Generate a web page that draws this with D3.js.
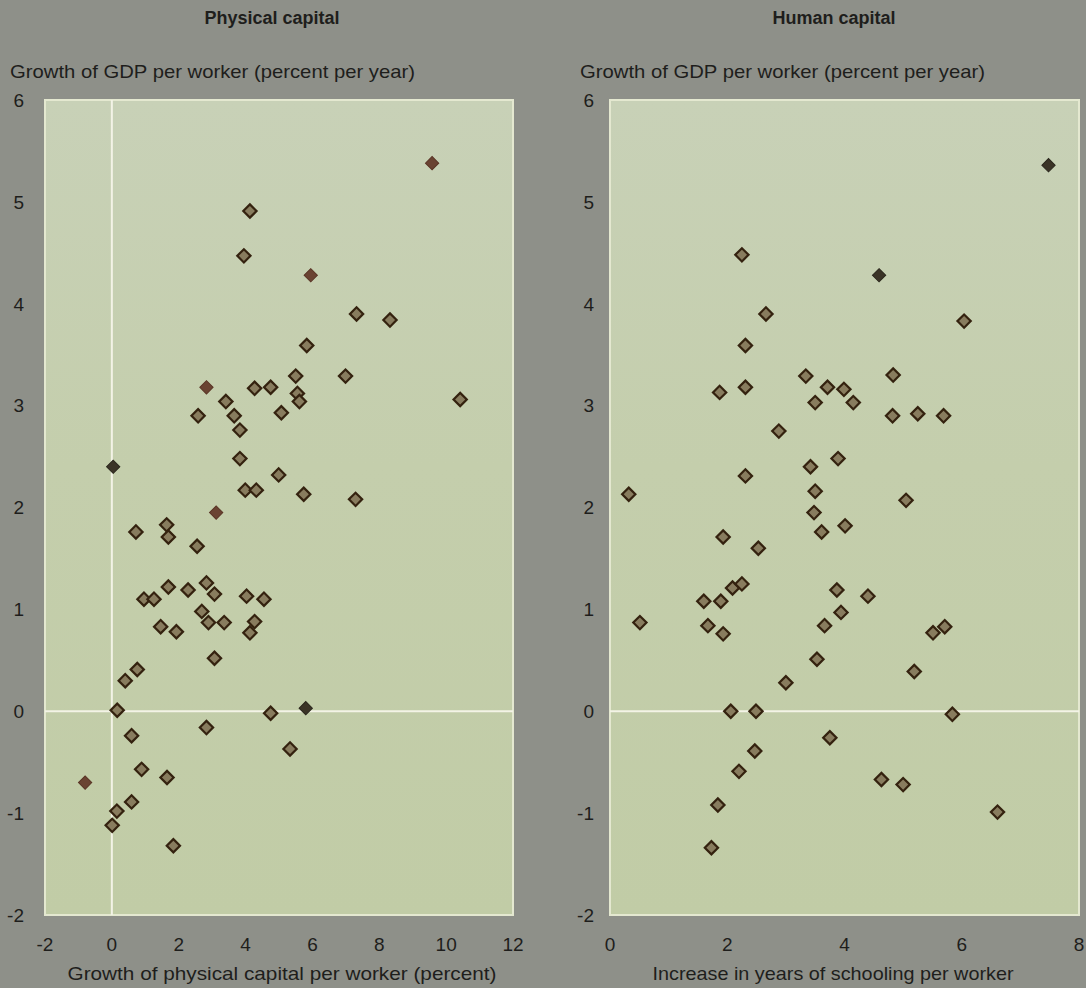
<!DOCTYPE html>
<html><head><meta charset="utf-8">
<script src="https://cdn.jsdelivr.net/npm/d3@7"></script>
<style>
html,body{margin:0;padding:0;background:#8e9089;}
svg{display:block;}
text{font-family:"Liberation Sans","DejaVu Sans",sans-serif;fill:#1e1e1c;}
</style></head>
<body><svg id="c" width="1086" height="988"></svg>
<script>
// ---- data ----
const physX = [9.58,4.13,3.95,5.95,7.32,8.32,5.83,2.83,3.41,2.58,4.27,4.75,5.50,6.99,5.55,5.61,5.07,3.66,3.83,3.83,4.99,3.99,4.32,5.74,7.29,3.12,10.42,2.55,0.04,0.72,1.64,1.69,1.69,2.28,2.83,3.07,0.96,1.26,4.03,4.55,2.69,2.89,3.36,4.27,4.13,1.46,1.93,3.07,0.76,0.40,0.16,4.75,5.80,2.83,0.59,5.33,0.89,1.65,-0.80,0.59,0.15,0.01,1.84];
const physY = [5.38,4.91,4.47,4.28,3.90,3.84,3.59,3.18,3.04,2.90,3.17,3.18,3.29,3.29,3.12,3.04,2.93,2.90,2.76,2.48,2.32,2.17,2.17,2.13,2.08,1.95,3.06,1.62,2.40,1.76,1.83,1.71,1.22,1.19,1.26,1.15,1.10,1.10,1.13,1.10,0.98,0.87,0.87,0.88,0.77,0.83,0.78,0.52,0.41,0.30,0.01,-0.02,0.03,-0.16,-0.24,-0.37,-0.57,-0.65,-0.70,-0.89,-0.98,-1.12,-1.32];
// marker style: 0 = outlined, 1 = solid brown, 2 = solid dark
const physType = [1,0,0,1,0,0,0,1,0,0,0,0,0,0,0,0,0,0,0,0,0,0,0,0,0,1,0,0,2,0,0,0,0,0,0,0,0,0,0,0,0,0,0,0,0,0,0,0,0,0,0,0,2,0,0,0,0,0,1,0,0,0,0];

const humX = [7.48,2.25,4.59,2.66,6.04,2.31,3.34,4.83,1.87,2.31,3.71,3.99,3.50,4.15,4.82,5.25,5.69,2.88,3.89,3.42,2.31,0.32,3.50,5.05,3.48,1.93,2.53,3.61,4.01,2.09,2.25,3.87,4.40,1.60,1.89,3.94,0.51,1.67,1.93,3.66,5.71,5.51,3.53,5.19,3.00,2.06,2.49,5.84,3.75,2.47,2.20,4.63,5.00,1.84,6.61,1.73];
const humY = [5.36,4.48,4.28,3.90,3.83,3.59,3.29,3.30,3.13,3.18,3.18,3.16,3.03,3.03,2.90,2.92,2.90,2.75,2.48,2.40,2.31,2.13,2.16,2.07,1.95,1.71,1.60,1.76,1.82,1.21,1.25,1.19,1.13,1.08,1.08,0.97,0.87,0.84,0.76,0.84,0.83,0.77,0.51,0.39,0.28,0.00,0.00,-0.03,-0.26,-0.39,-0.59,-0.67,-0.72,-0.92,-0.99,-1.34];
const humType = [2,0,2,0,0,0,0,0,0,0,0,0,0,0,0,0,0,0,0,0,0,0,0,0,0,0,0,0,0,0,0,0,0,0,0,0,0,0,0,0,0,0,0,0,0,0,0,0,0,0,0,0,0,0,0,0];

const yTicks = [-2,-1,0,1,2,3,4,5,6];
const physXTicks = [-2,0,2,4,6,8,10,12];
const humXTicks = [0,2,4,6,8];

const svg = d3.select("#c");
const defs = svg.append("defs");
const grad = defs.append("linearGradient").attr("id","bg").attr("x1",0).attr("y1",0).attr("x2",0).attr("y2",1);
grad.append("stop").attr("offset","0%").attr("stop-color","#c8d1b7");
grad.append("stop").attr("offset","45%").attr("stop-color","#c4ceac");
grad.append("stop").attr("offset","100%").attr("stop-color","#c1cca6");

const y = d3.scaleLinear().domain([-2,6]).range([915,100]);

function panel(opt){
  const g = svg.append("g");
  const x = d3.scaleLinear().domain(opt.xdom).range(opt.xr);
  g.append("rect").attr("x",opt.xr[0]).attr("y",y(6)).attr("width",opt.xr[1]-opt.xr[0]).attr("height",y(-2)-y(6))
    .attr("fill","url(#bg)").attr("stroke","#e4e8d0").attr("stroke-width",2);
  if (opt.xdom[0] < 0) {
    g.append("line").attr("x1",x(0)).attr("x2",x(0)).attr("y1",y(6)).attr("y2",y(-2))
      .attr("stroke","#f3f3e6").attr("stroke-width",2);
  }
  g.append("line").attr("x1",opt.xr[0]).attr("x2",opt.xr[1]).attr("y1",y(0)).attr("y2",y(0))
    .attr("stroke","#f3f3e6").attr("stroke-width",2);
  g.selectAll(".yt").data(yTicks).enter().append("text")
    .attr("x",opt.ylx).attr("y",d=>y(d)).attr("dy","0.36em").attr("text-anchor","end")
    .attr("font-size",19).text(d=>d);
  g.selectAll(".xt").data(opt.xticks).enter().append("text")
    .attr("x",d=>x(d)).attr("y",951).attr("text-anchor","middle")
    .attr("font-size",19).text(d=>d);
  g.append("text").attr("x",opt.tx).attr("y",24).attr("text-anchor","middle")
    .attr("font-size",18).attr("font-weight","bold").attr("fill","#141412").text(opt.title);
  g.append("text").attr("x",opt.ytx).attr("y",78).attr("font-size",19)
    .attr("textLength",405).attr("lengthAdjust","spacingAndGlyphs")
    .text("Growth of GDP per worker (percent per year)");
  g.append("text").attr("x",opt.xtx).attr("y",980).attr("text-anchor","middle").attr("font-size",19)
    .attr("textLength",opt.xtLen).attr("lengthAdjust","spacingAndGlyphs")
    .text(opt.xtitle);
  const sym = d3.symbol().type(d3.symbolSquare).size(88);
  const pts = opt.xs.map((v,i)=>({x:v,y:opt.ys[i],t:opt.types[i]}));
  g.selectAll(".pt").data(pts).enter().append("path")
    .attr("d",sym)
    .attr("transform",d=>`translate(${x(d.x)},${y(d.y)}) rotate(45)`)
    .attr("fill",d=>d.t===0?"#887c5e":(d.t===1?"#6a4332":"#3b3427"))
    .attr("stroke",d=>d.t===0?"#34220f":(d.t===1?"#5a3526":"#2b271d"))
    .attr("stroke-width",d=>d.t===0?2.2:1);
}

panel({xdom:[-2,12], xr:[45,513], xs:physX, ys:physY, types:physType, xticks:physXTicks,
  ylx:24, tx:272, title:"Physical capital", ytx:10,
  xtx:282, xtLen:429, xtitle:"Growth of physical capital per worker (percent)"});
panel({xdom:[0,8], xr:[610,1079], xs:humX, ys:humY, types:humType, xticks:humXTicks,
  ylx:594, tx:834, title:"Human capital", ytx:580,
  xtx:833, xtLen:361, xtitle:"Increase in years of schooling per worker"});
</script></body></html>
